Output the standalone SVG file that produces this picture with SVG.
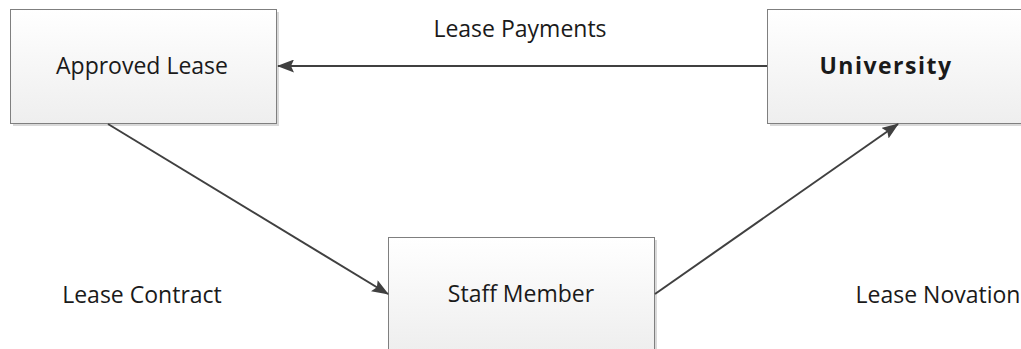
<svg xmlns="http://www.w3.org/2000/svg" width="1021" height="349" viewBox="0 0 1021 349">
<defs>
<linearGradient id="g" x1="0" y1="0" x2="0" y2="1">
<stop offset="0" stop-color="#ffffff"/>
<stop offset="1" stop-color="#eeeeee"/>
</linearGradient>
<marker id="arr" markerWidth="17" markerHeight="13" refX="16" refY="6.5" orient="auto" markerUnits="userSpaceOnUse" viewBox="0 0 17 13">
<path d="M0,0 L17,6.5 L0,13 L3,6.5 z" fill="#404040"/>
</marker>
<style>
.box{fill:url(#g);stroke:#7f7f7f;stroke-width:1}
.sh{fill:#d9d9d9}
.t{font-family:"Open Sans","Liberation Sans",sans-serif;font-size:23px;fill:#1a1a1a;text-anchor:middle}
.b{font-weight:bold;letter-spacing:1.5px}
.c{stroke:#404040;stroke-width:2;fill:none;marker-end:url(#arr)}
</style>
</defs>
<g id="approved-lease">
<rect class="sh" x="13" y="12" width="266" height="114"/>
<rect class="box" x="10.5" y="9.5" width="266" height="114"/>
<text class="t" x="142" y="74">Approved Lease</text>
</g>
<g id="university">
<rect class="sh" x="770" y="12" width="260" height="114"/>
<rect class="box" x="767.5" y="9.5" width="266" height="114"/>
<text class="t b" x="886" y="74">University</text>
</g>
<g id="staff-member">
<rect class="sh" x="391" y="240" width="266" height="114"/>
<rect class="box" x="388.5" y="237.5" width="266" height="114"/>
<text class="t" x="521" y="302">Staff Member</text>
</g>
<g id="labels">
<text class="t" x="520" y="37">Lease Payments</text>
<text class="t" x="142" y="303">Lease Contract</text>
<text class="t" x="938" y="303">Lease Novation</text>
</g>
<g id="connectors">
<line class="c" x1="767" y1="66" x2="278" y2="66"/>
<line class="c" x1="108" y1="124" x2="388" y2="294"/>
<line class="c" x1="655" y1="294" x2="898" y2="124"/>
</g>
</svg>
